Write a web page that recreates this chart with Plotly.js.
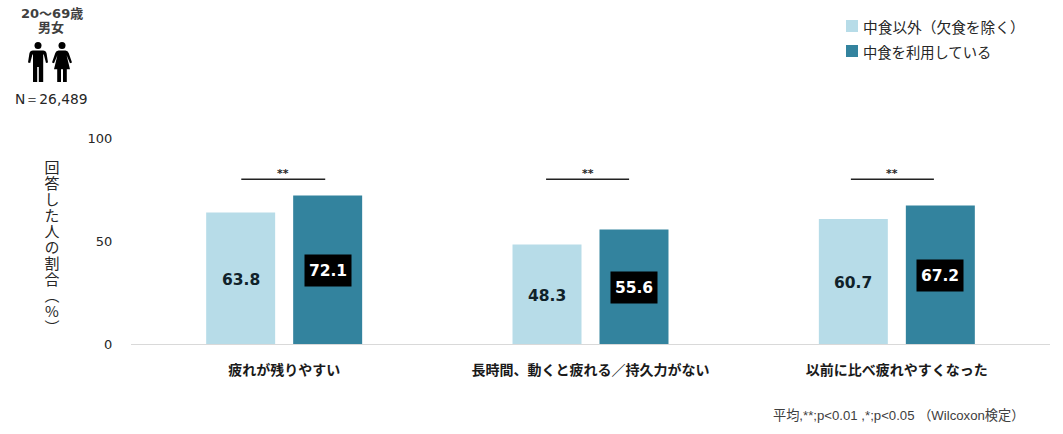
<!DOCTYPE html>
<html><head><meta charset="utf-8">
<script src="https://cdn.plot.ly/plotly-3.0.1.min.js"></script>
<style>html,body{margin:0;padding:0;background:#fff}</style></head>
<body><div id="chart" style="width:1063px;height:434px"></div>
<script>
const categories = ['疲れが残りやすい','長時間、動くと疲れる／持久力がない','以前に比べ疲れやすくなった'];
const seriesA = [63.8,48.3,60.7];
const seriesB = [72.1,55.6,67.2];
const seriesAName = '中食以外（欠食を除く）';
const seriesBName = '中食を利用している';
const significance = ['**','**','**'];
const bracketLeft = [-0.14,-0.145,-0.15];
const bracketRight = [0.134,0.126,0.121];
const yTicks = [0,50,100];
const bracketLevel = 80;
const yTitle = '回答した人の割合（%）';
const colorA = '#b7dce8', colorB = '#33839e';
const JP = '"Noto Sans CJK JP","Noto Sans",sans-serif';
const LAT = '"DejaVu Sans",sans-serif';

const W=1063,H=434,L=131,R=13,T=138,B=90;
const pw=W-L-R, ph=H-T-B;
const px=x=>(x-L)/pw, py=y=>(H-B-y)/ph;
const txt=(text,x,y,size,opt={})=>Object.assign({text,x:px(x),y:py(y),xref:'paper',yref:'paper',showarrow:false,
  xanchor:'center',yanchor:'middle',font:{family:JP,size,color:'#262626'}},opt);

const annotations=[];
categories.forEach((c,i)=>{
  annotations.push({x:i,y:seriesA[i]/2,xref:'x',yref:'y',xshift:-43.5,yshift:-1.5,showarrow:false,text:seriesA[i].toFixed(1),
    font:{family:LAT,size:15.5,color:'#10222a',weight:'bold'}});
  annotations.push({x:i,y:seriesB[i]/2,xref:'x',yref:'y',xshift:43.5,yshift:-1,showarrow:false,text:seriesB[i].toFixed(1),
    bgcolor:'#000',borderpad:0,width:46,height:31,font:{family:LAT,size:15.5,color:'#fff',weight:'bold'}});
  annotations.push({x:i+(bracketLeft[i]+bracketRight[i])/2,y:bracketLevel,xref:'x',yref:'y',showarrow:false,yanchor:'bottom',yshift:-3,text:significance[i],
    font:{family:LAT,size:11,color:'#262626',weight:'bold'}});
});
annotations.push(txt(yTitle,52,246,15,{font:{family:JP,size:15,color:'#262626'}}));
const headFont={family:'"DejaVu Sans","Noto Sans CJK JP",sans-serif',size:13,color:'#404040'};
annotations.push(txt('<b>20～69歳</b>',52,13,13,{font:headFont}));
annotations.push(txt('<b>男女</b>',51,27,13,{font:headFont}));
annotations.push(txt('N＝26,489',51,99,13.8,{font:{family:LAT,size:13.8,color:'#262626'}}));
annotations.push(txt(seriesAName,861,26,14.7,{xanchor:'left'}));
annotations.push(txt(seriesBName,861,52,14.3,{xanchor:'left'}));
annotations.push(txt('平均,**;p&lt;0.01 ,*;p&lt;0.05 （Wilcoxon検定）',771,415,13.2,{xanchor:'left',
  font:{family:'"Liberation Sans","Noto Sans CJK JP",sans-serif',size:13.2,color:'#404040'}}));

const shapes=categories.map((c,i)=>({type:'line',xref:'x',yref:'y',x0:i+bracketLeft[i],x1:i+bracketRight[i],y0:bracketLevel,y1:bracketLevel,
  line:{color:'#222',width:1.5}}));
const sq=(x0,y0,x1,y1,color)=>({type:'rect',xref:'paper',yref:'paper',x0:px(x0),x1:px(x1),y0:py(y1),y1:py(y0),
  fillcolor:color,line:{width:0}});
shapes.push(sq(846,20,858,32,colorA),sq(846,45,858,57,colorB));

const man='<svg xmlns="http://www.w3.org/2000/svg" viewBox="0 0 20 40"><circle cx="10" cy="3.6" r="3.5"/><path d="M5 8.5h10q3 0 3.6 3l1.4 9-2 .6-2.2-8.6-.6 0V40h-4.4V25h-1.6v15H5V12.5l-.6 0L2.2 21.1 0 20.5l1.4-9q.6-3 3.6-3z"/></svg>';
const woman='<svg xmlns="http://www.w3.org/2000/svg" viewBox="0 0 20 40"><circle cx="10" cy="3.6" r="3.5"/><path d="M6.5 8.5h7q2.4 0 3.2 2.6L20 20.5l-2 .8-3.4-8 3.4 14H14.8V40h-3.8V27.300h-2V40H5.200V27.300H2l3.400-14-3.400 8-2-.8 3.300-9.400q.8-2.600 3.200-2.600z"/></svg>';
const uri=s=>'data:image/svg+xml;charset=utf-8,'+encodeURIComponent(s);
const images=[[man,28],[woman,52]].map(([s,x])=>({source:uri(s),xref:'paper',yref:'paper',x:px(x),y:py(42),
  sizex:20/pw,sizey:40/ph,xanchor:'left',yanchor:'top',sizing:'stretch',layer:'above'}));

Plotly.newPlot('chart',[
 {type:'bar',name:seriesAName,x:categories,y:seriesA,marker:{color:colorA},hoverinfo:'y'},
 {type:'bar',name:seriesBName,x:categories,y:seriesB,marker:{color:colorB},hoverinfo:'y'}
],{
 width:W,height:H,margin:{l:L,r:R,t:T,b:B,pad:0},paper_bgcolor:'#fff',plot_bgcolor:'#fff',
 barmode:'group',bargap:0.432,bargroupgap:0.207,showlegend:false,
 xaxis:{type:'category',tickfont:{family:JP,size:14,color:'#1a1a1a',weight:'bold'},ticks:'outside',ticklen:13,tickcolor:'rgba(0,0,0,0)',
   showline:true,linecolor:'#d9d9d9',linewidth:1,showgrid:false},
 yaxis:{range:[0,100],tickvals:yTicks,ticktext:yTicks.map(String),tickfont:{family:LAT,size:13,color:'#262626'},ticks:'outside',ticklen:15,tickcolor:'rgba(0,0,0,0)',
   showline:false,showgrid:false,zeroline:false},
 annotations,shapes,images
},{displayModeBar:false,responsive:false}).then(()=>{
  // The axis caption reads top to bottom with upright characters, as in the reference.
  const el=[...document.querySelectorAll('.annotation-text')].find(t=>t.textContent===yTitle);
  if(!el) return;
  el.style.writingMode='vertical-rl';
  el.style.textOrientation='upright';
  el.style.letterSpacing='1px';
  el.removeAttribute('transform');
  const r=el.getBoundingClientRect();
  el.setAttribute('transform',`translate(${52-(r.left+r.right)/2},${248-(r.top+r.bottom)/2})`);
});
</script></body></html>
